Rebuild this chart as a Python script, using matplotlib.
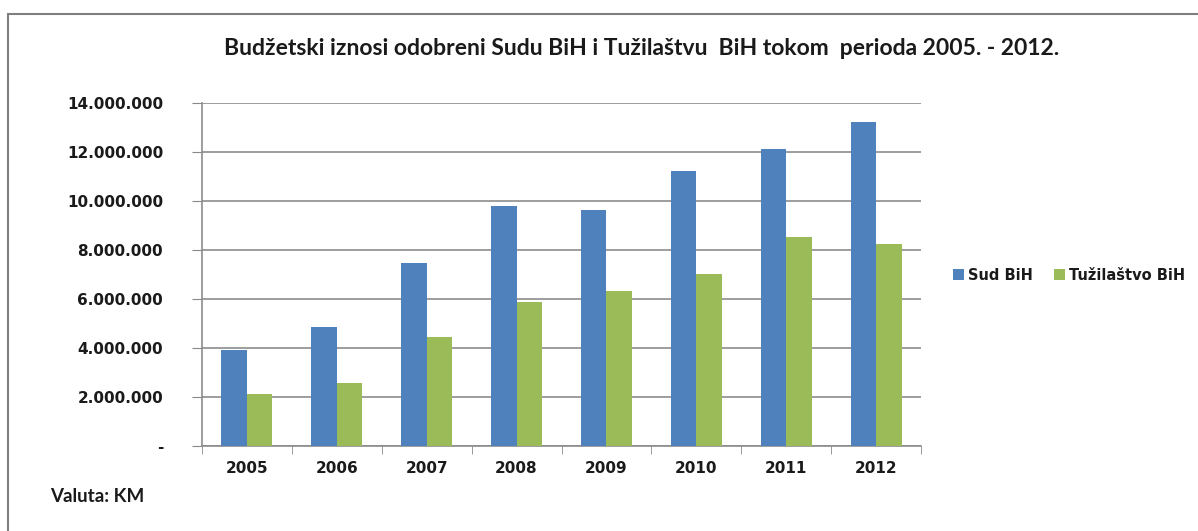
import matplotlib
matplotlib.use("Agg")
import matplotlib.pyplot as plt
import numpy as np
from matplotlib.patches import Rectangle
from matplotlib.ticker import FuncFormatter

years = ["2005", "2006", "2007", "2008", "2009", "2010", "2011", "2012"]
sud_bih = [3920000, 4870000, 7480000, 9810000, 9630000, 11240000, 12110000, 13240000]
tuzilastvo_bih = [2120000, 2580000, 4450000, 5880000, 6340000, 7020000, 8530000, 8240000]
series_names = ["Sud BiH", "Tužilaštvo BiH"]
yticks = [0, 2000000, 4000000, 6000000, 8000000, 10000000, 12000000, 14000000]

W, H = 1198, 531
fig = plt.figure(figsize=(W / 100, H / 100), dpi=100)
plt.rcParams['font.family'] = ['Lato', 'DejaVu Sans']
TICKFONT = ['DejaVu Sans']

# outer chart frame
fig.patches.append(Rectangle((8 / W, -0.1), 1.2, (531 - 14) / H + 0.1,
                             transform=fig.transFigure, fill=False,
                             edgecolor="#7f7f7f", linewidth=1.5))

ax = fig.add_axes([202 / W, 1 - 446 / H, (921 - 202) / W, (446 - 103) / H])
x = np.arange(len(years))
bw = 0.284
ax.bar(x - bw / 2, sud_bih, width=bw, color="#4F81BD", label=series_names[0], zorder=3)
ax.bar(x + bw / 2, tuzilastvo_bih, width=bw, color="#9BBB59", label=series_names[1], zorder=3)

ax.set_xlim(-0.5, len(years) - 0.5)
ax.set_ylim(0, 14000000)
ax.set_yticks(yticks)

def fmt(v, pos):
    if v == 0:
        return "-"
    return f"{int(v):,}".replace(",", ".")

ax.yaxis.set_major_formatter(FuncFormatter(fmt))
ax.set_xticks(x)
ax.set_xticklabels(years)
ax.set_xticks(np.arange(len(years) + 1) - 0.5, minor=True)
ax.tick_params(axis="x", which="major", length=0, pad=11)
ax.tick_params(axis="x", which="minor", length=6, color="#888888", direction="out")
ax.tick_params(axis="y", length=7, color="#888888", pad=21)
for lab in ax.get_xticklabels() + ax.get_yticklabels():
    lab.set_fontsize(11)
    lab.set_fontweight("bold")
    lab.set_family(TICKFONT)
    lab.set_color("#1a1a1a")

ax.grid(axis="y", color="#8c8c8c", linewidth=1.2, zorder=0)
for s in ["top", "right"]:
    ax.spines[s].set_visible(False)
for s in ["left", "bottom"]:
    ax.spines[s].set_color("#8c8c8c")
    ax.spines[s].set_linewidth(1.2)

fig.text(642 / W, 1 - 48 / H,
         "Budžetski iznosi odobreni Sudu BiH i Tužilaštvu  BiH tokom  perioda 2005. - 2012.",
         ha="center", va="center", fontsize=16.5, fontweight="bold", color="#1a1a1a")
fig.text(50 / W, 1 - 496 / H, "Valuta: KM", ha="left", va="center",
         fontsize=13.5, fontweight="bold", color="#1a1a1a")

leg = fig.legend(loc="center left", bbox_to_anchor=(940 / W, 1 - 275 / H), ncol=2,
                 frameon=False, handlelength=0.75, handleheight=0.75, handletextpad=0.3,
                 columnspacing=1.4, prop={"size": 10.5, "weight": "bold", "family": TICKFONT})
for t in leg.get_texts():
    t.set_color("#1a1a1a")

fig.savefig("out.png", dpi=100, facecolor="white")
